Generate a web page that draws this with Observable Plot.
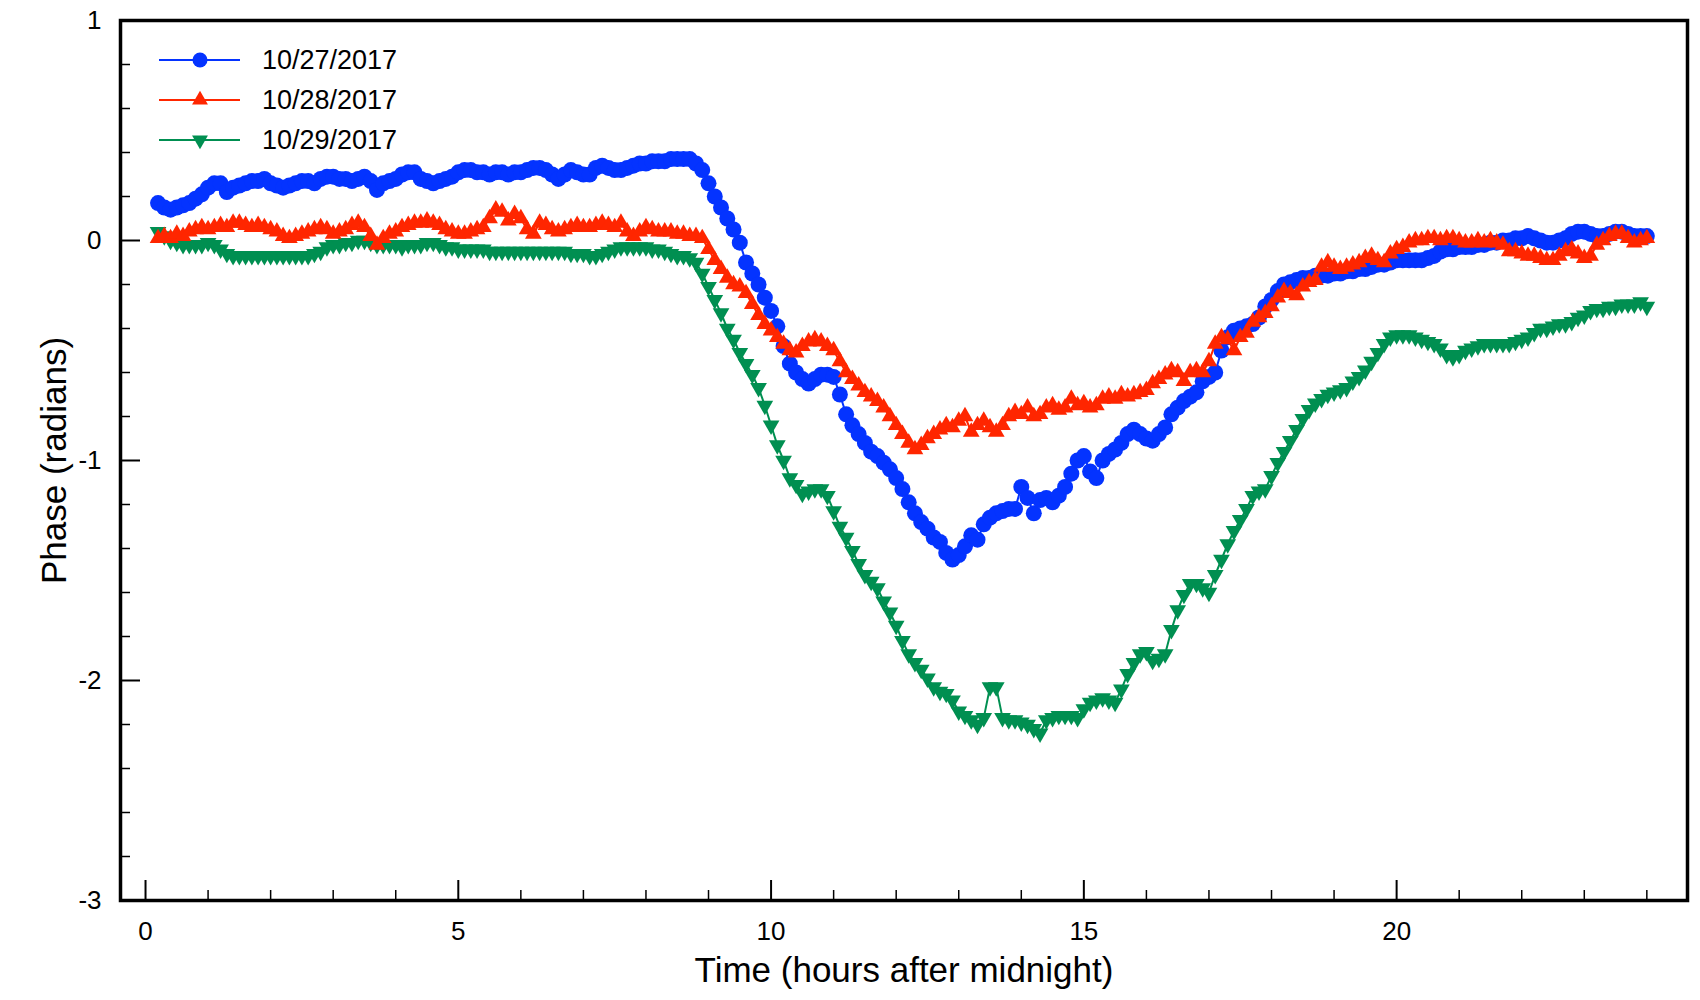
<!DOCTYPE html>
<html>
<head>
<meta charset="utf-8">
<script src="https://cdn.jsdelivr.net/npm/d3@7"></script>
<script src="https://cdn.jsdelivr.net/npm/@observablehq/plot@0.6"></script>
<style>
  html, body { margin: 0; padding: 0; background: #ffffff; }
  #wrap { position: relative; width: 1700px; height: 1000px; font-family: "Liberation Sans", Arial, Helvetica, sans-serif; }
  #wrap svg { display: block; }
</style>
</head>
<body>
<div id="wrap"></div>
<script>
// ---------------- data ----------------
const seriesNames = ["10/27/2017", "10/28/2017", "10/29/2017"];
const seriesColors = ["#0433ff", "#ff2600", "#008f51"];

// sampling grid: 0.2 h ... 24.0 h, every 0.1 h
const hours = d3.range(2, 241).map(i => i / 10);

// 10/27/2017 phase (radians), one row per hour
const phase1027 = [
  0.17,0.15,0.14,0.15,0.16,0.17,0.19,0.21,
  0.24,0.26,0.26,0.22,0.24,0.25,0.26,0.27,0.27,0.28,
  0.26,0.25,0.24,0.25,0.26,0.27,0.27,0.26,0.28,0.29,
  0.29,0.28,0.28,0.27,0.28,0.29,0.27,0.23,0.26,0.27,
  0.28,0.30,0.31,0.31,0.28,0.27,0.26,0.27,0.28,0.29,
  0.31,0.32,0.32,0.31,0.31,0.30,0.31,0.31,0.30,0.31,
  0.31,0.32,0.33,0.33,0.32,0.30,0.28,0.30,0.32,0.31,
  0.30,0.30,0.33,0.34,0.33,0.32,0.32,0.33,0.34,0.35,
  0.35,0.36,0.36,0.36,0.37,0.37,0.37,0.37,0.35,0.32,
  0.26,0.20,0.15,0.10,0.05,-0.01,-0.10,-0.15,-0.20,-0.26,
  -0.32,-0.39,-0.48,-0.56,-0.60,-0.63,-0.65,-0.63,-0.61,-0.61,
  -0.62,-0.70,-0.79,-0.84,-0.88,-0.92,-0.96,-0.98,-1.01,-1.04,
  -1.08,-1.13,-1.19,-1.24,-1.28,-1.31,-1.35,-1.37,-1.42,-1.45,
  -1.43,-1.39,-1.34,-1.36,-1.29,-1.26,-1.24,-1.23,-1.22,-1.22,
  -1.12,-1.17,-1.24,-1.18,-1.17,-1.19,-1.16,-1.12,-1.06,-1.00,
  -0.98,-1.05,-1.08,-1.00,-0.97,-0.95,-0.92,-0.88,-0.86,-0.88,
  -0.90,-0.91,-0.88,-0.85,-0.79,-0.76,-0.73,-0.71,-0.69,-0.64,
  -0.62,-0.60,-0.50,-0.44,-0.41,-0.40,-0.39,-0.38,-0.35,-0.30,
  -0.27,-0.23,-0.20,-0.19,-0.18,-0.17,-0.17,-0.16,-0.16,-0.16,
  -0.15,-0.15,-0.14,-0.14,-0.13,-0.13,-0.12,-0.11,-0.11,-0.10,
  -0.09,-0.09,-0.09,-0.09,-0.09,-0.08,-0.07,-0.05,-0.04,-0.04,
  -0.03,-0.03,-0.03,-0.02,-0.02,-0.01,-0.01,0.00,0.00,0.01,
  0.01,0.02,0.01,0.00,-0.01,-0.01,0.00,0.01,0.03,0.04,
  0.04,0.03,0.02,0.02,0.03,0.04,0.04,0.03,0.02,0.02,
  0.02
];

// 10/28/2017 phase (radians)
const phase1028 = [
  0.01,0.02,0.01,0.03,0.02,0.04,0.05,0.06,
  0.05,0.06,0.07,0.06,0.08,0.08,0.07,0.06,0.07,0.06,
  0.05,0.04,0.02,0.01,0.02,0.03,0.04,0.05,0.06,0.05,
  0.03,0.04,0.05,0.07,0.08,0.06,0.02,-0.02,0.01,0.03,
  0.04,0.06,0.07,0.08,0.08,0.09,0.08,0.07,0.05,0.04,
  0.03,0.03,0.04,0.05,0.06,0.10,0.14,0.13,0.09,0.12,
  0.10,0.05,0.03,0.08,0.07,0.05,0.04,0.05,0.06,0.07,
  0.06,0.06,0.07,0.08,0.07,0.06,0.08,0.04,0.02,0.04,
  0.06,0.05,0.04,0.04,0.04,0.03,0.03,0.02,0.02,0.01,
  -0.04,-0.09,-0.13,-0.17,-0.20,-0.21,-0.24,-0.29,-0.34,-0.38,
  -0.41,-0.44,-0.47,-0.50,-0.51,-0.48,-0.46,-0.45,-0.46,-0.48,
  -0.50,-0.55,-0.60,-0.63,-0.66,-0.69,-0.71,-0.73,-0.76,-0.80,
  -0.84,-0.88,-0.92,-0.95,-0.93,-0.90,-0.88,-0.86,-0.84,-0.85,
  -0.82,-0.80,-0.87,-0.84,-0.82,-0.85,-0.87,-0.84,-0.80,-0.78,
  -0.79,-0.76,-0.80,-0.79,-0.76,-0.75,-0.77,-0.76,-0.72,-0.75,
  -0.74,-0.76,-0.75,-0.72,-0.71,-0.72,-0.70,-0.71,-0.70,-0.69,
  -0.68,-0.65,-0.63,-0.61,-0.59,-0.60,-0.64,-0.60,-0.59,-0.60,
  -0.55,-0.47,-0.44,-0.45,-0.50,-0.44,-0.42,-0.37,-0.35,-0.33,
  -0.30,-0.26,-0.23,-0.24,-0.25,-0.21,-0.19,-0.18,-0.12,-0.10,
  -0.12,-0.13,-0.12,-0.11,-0.10,-0.08,-0.07,-0.09,-0.10,-0.06,
  -0.04,-0.03,-0.01,0.00,0.00,0.01,0.01,0.00,0.01,0.01,
  0.00,-0.01,-0.01,0.00,-0.01,0.00,-0.01,-0.02,-0.05,-0.05,
  -0.06,-0.07,-0.07,-0.08,-0.09,-0.09,-0.07,-0.05,-0.04,-0.06,
  -0.08,-0.07,-0.02,0.00,0.02,0.03,0.03,0.01,-0.01,0.00,
  0.01
];

// 10/29/2017 phase (radians)
const phase1029 = [
  0.04,0.02,0.00,-0.01,-0.02,-0.02,-0.02,-0.02,
  -0.01,-0.02,-0.04,-0.06,-0.07,-0.07,-0.07,-0.07,-0.07,-0.07,
  -0.07,-0.07,-0.07,-0.07,-0.07,-0.07,-0.07,-0.06,-0.05,-0.03,
  -0.02,-0.02,-0.01,-0.01,0.00,0.00,-0.01,-0.02,-0.02,-0.02,
  -0.02,-0.03,-0.02,-0.02,-0.02,-0.01,-0.01,-0.02,-0.03,-0.03,
  -0.04,-0.04,-0.04,-0.04,-0.04,-0.05,-0.05,-0.05,-0.05,-0.05,
  -0.05,-0.05,-0.05,-0.05,-0.05,-0.05,-0.05,-0.05,-0.06,-0.06,
  -0.06,-0.07,-0.07,-0.06,-0.05,-0.04,-0.03,-0.03,-0.03,-0.03,
  -0.03,-0.04,-0.04,-0.05,-0.06,-0.07,-0.07,-0.08,-0.10,-0.15,
  -0.21,-0.27,-0.33,-0.40,-0.45,-0.51,-0.56,-0.61,-0.67,-0.75,
  -0.84,-0.93,-1.00,-1.08,-1.11,-1.15,-1.14,-1.13,-1.13,-1.16,
  -1.23,-1.30,-1.35,-1.41,-1.47,-1.52,-1.55,-1.58,-1.64,-1.69,
  -1.75,-1.82,-1.88,-1.92,-1.95,-1.99,-2.03,-2.05,-2.06,-2.09,
  -2.14,-2.16,-2.18,-2.20,-2.17,-2.03,-2.03,-2.17,-2.18,-2.18,
  -2.19,-2.20,-2.22,-2.24,-2.18,-2.17,-2.16,-2.16,-2.16,-2.17,
  -2.13,-2.10,-2.09,-2.08,-2.09,-2.10,-2.04,-1.97,-1.92,-1.88,
  -1.87,-1.91,-1.90,-1.88,-1.77,-1.68,-1.61,-1.56,-1.56,-1.58,
  -1.60,-1.52,-1.45,-1.38,-1.32,-1.27,-1.22,-1.16,-1.14,-1.13,
  -1.07,-1.01,-0.96,-0.91,-0.86,-0.81,-0.77,-0.74,-0.72,-0.70,
  -0.69,-0.68,-0.67,-0.64,-0.62,-0.59,-0.55,-0.51,-0.47,-0.44,
  -0.43,-0.43,-0.43,-0.44,-0.45,-0.46,-0.47,-0.49,-0.52,-0.53,
  -0.52,-0.50,-0.49,-0.48,-0.47,-0.47,-0.47,-0.47,-0.47,-0.46,
  -0.45,-0.44,-0.42,-0.40,-0.40,-0.39,-0.38,-0.38,-0.37,-0.35,
  -0.34,-0.32,-0.31,-0.31,-0.30,-0.30,-0.29,-0.29,-0.29,-0.28,
  -0.30
];

// axis ticks
const xMajorTicks = [0, 5, 10, 15, 20];
const xMinorTicks = [1, 2, 3, 4, 6, 7, 8, 9, 11, 12, 13, 14, 16, 17, 18, 19, 21, 22, 23, 24];
const yMajorTicks = [-3, -2, -1, 0, 1];
const yMinorTicks = [-2.8, -2.6, -2.4, -2.2, -1.8, -1.6, -1.4, -1.2, -0.8, -0.6, -0.4, -0.2, 0.2, 0.4, 0.6, 0.8];
const xTitle = "Time (hours after midnight)";
const yTitle = "Phase (radians)";

// ---------------- drawing ----------------
const sqrt3 = Math.sqrt(3);
const triangleDown = {
  draw(context, size) {
    const y = -Math.sqrt(size / (sqrt3 * 3));
    context.moveTo(0, -y * 2);
    context.lineTo(-sqrt3 * y, y);
    context.lineTo(sqrt3 * y, y);
    context.closePath();
  }
};
const seriesSymbols = ["circle", "triangle", triangleDown];
const seriesR = [8, 6.2, 6.2];
const allValues = [phase1027, phase1028, phase1029];

const seriesData = allValues.map((vals, s) => {
  const n = Math.min(vals.length, hours.length);
  return d3.range(n).map(i => ({t: hours[i], v: vals[i], series: seriesNames[s]}));
});

const font = "'Liberation Sans', Arial, Helvetica, sans-serif";
const drawOrder = [0, 2, 1];
const seriesMarks = [];
for (const s of drawOrder) {
  seriesMarks.push(Plot.line(seriesData[s], {x: "t", y: "v", stroke: seriesColors[s], strokeWidth: 2}));
  seriesMarks.push(Plot.dot(seriesData[s], {x: "t", y: "v", r: seriesR[s], symbol: seriesSymbols[s], fill: seriesColors[s], stroke: "none"}));
}

const chart = Plot.plot({
  width: 1700,
  height: 1000,
  marginLeft: 120,
  marginRight: 13,
  marginTop: 20,
  marginBottom: 100,
  style: {fontFamily: font, background: "#ffffff", color: "#000000", overflow: "visible"},
  x: {domain: [-0.4, 24.65]},
  y: {domain: [-3, 1]},
  marks: [
    ...seriesMarks,
    Plot.axisX(xMinorTicks, {anchor: "bottom", tickSize: -10, strokeWidth: 1.5, tickFormat: () => "", label: null}),
    Plot.axisX(xMajorTicks, {anchor: "bottom", tickSize: -20, tickPadding: 41, strokeWidth: 2, fontSize: 26, tickFormat: d => String(d), label: null}),
    Plot.axisY(yMinorTicks, {anchor: "left", tickSize: -10, strokeWidth: 1.5, tickFormat: () => "", label: null}),
    Plot.axisY(yMajorTicks, {anchor: "left", tickSize: -20, tickPadding: 39, strokeWidth: 2, fontSize: 26, tickFormat: d => String(d), label: null}),
    Plot.frame({stroke: "#000000", strokeWidth: 3.5}),
    Plot.text([xTitle], {text: d => d, frameAnchor: "bottom", dy: 70, fontSize: 35, textAnchor: "middle", lineAnchor: "middle", fill: "#000000"}),
    Plot.text([yTitle], {text: d => d, frameAnchor: "left", dx: -66, rotate: -90, fontSize: 35, textAnchor: "middle", lineAnchor: "middle", fill: "#000000"})
  ]
});

const wrap = document.getElementById("wrap");
wrap.appendChild(chart);

// legend (inside the frame, top-left)
const legend = d3.create("svg")
  .attr("width", 420).attr("height", 170)
  .style("position", "absolute").style("left", "0px").style("top", "0px")
  .style("font-family", font);
seriesNames.forEach((name, i) => {
  const y = 60 + 40 * i;
  legend.append("line")
    .attr("x1", 159).attr("x2", 240).attr("y1", y).attr("y2", y)
    .attr("stroke", seriesColors[i]).attr("stroke-width", 1.8);
  const sym = seriesSymbols[i] === "circle" ? d3.symbolCircle : seriesSymbols[i] === "triangle" ? d3.symbolTriangle : seriesSymbols[i];
  const rLeg = i === 0 ? 7.5 : 5.9;
  legend.append("path")
    .attr("transform", `translate(200,${y})`)
    .attr("d", d3.symbol(sym, Math.PI * rLeg * rLeg)())
    .attr("fill", seriesColors[i]);
  legend.append("text")
    .attr("x", 262).attr("y", y).attr("dy", "0.35em")
    .attr("font-size", 27).attr("fill", "#000000")
    .text(name);
});
wrap.appendChild(legend.node());
</script>
</body>
</html>
